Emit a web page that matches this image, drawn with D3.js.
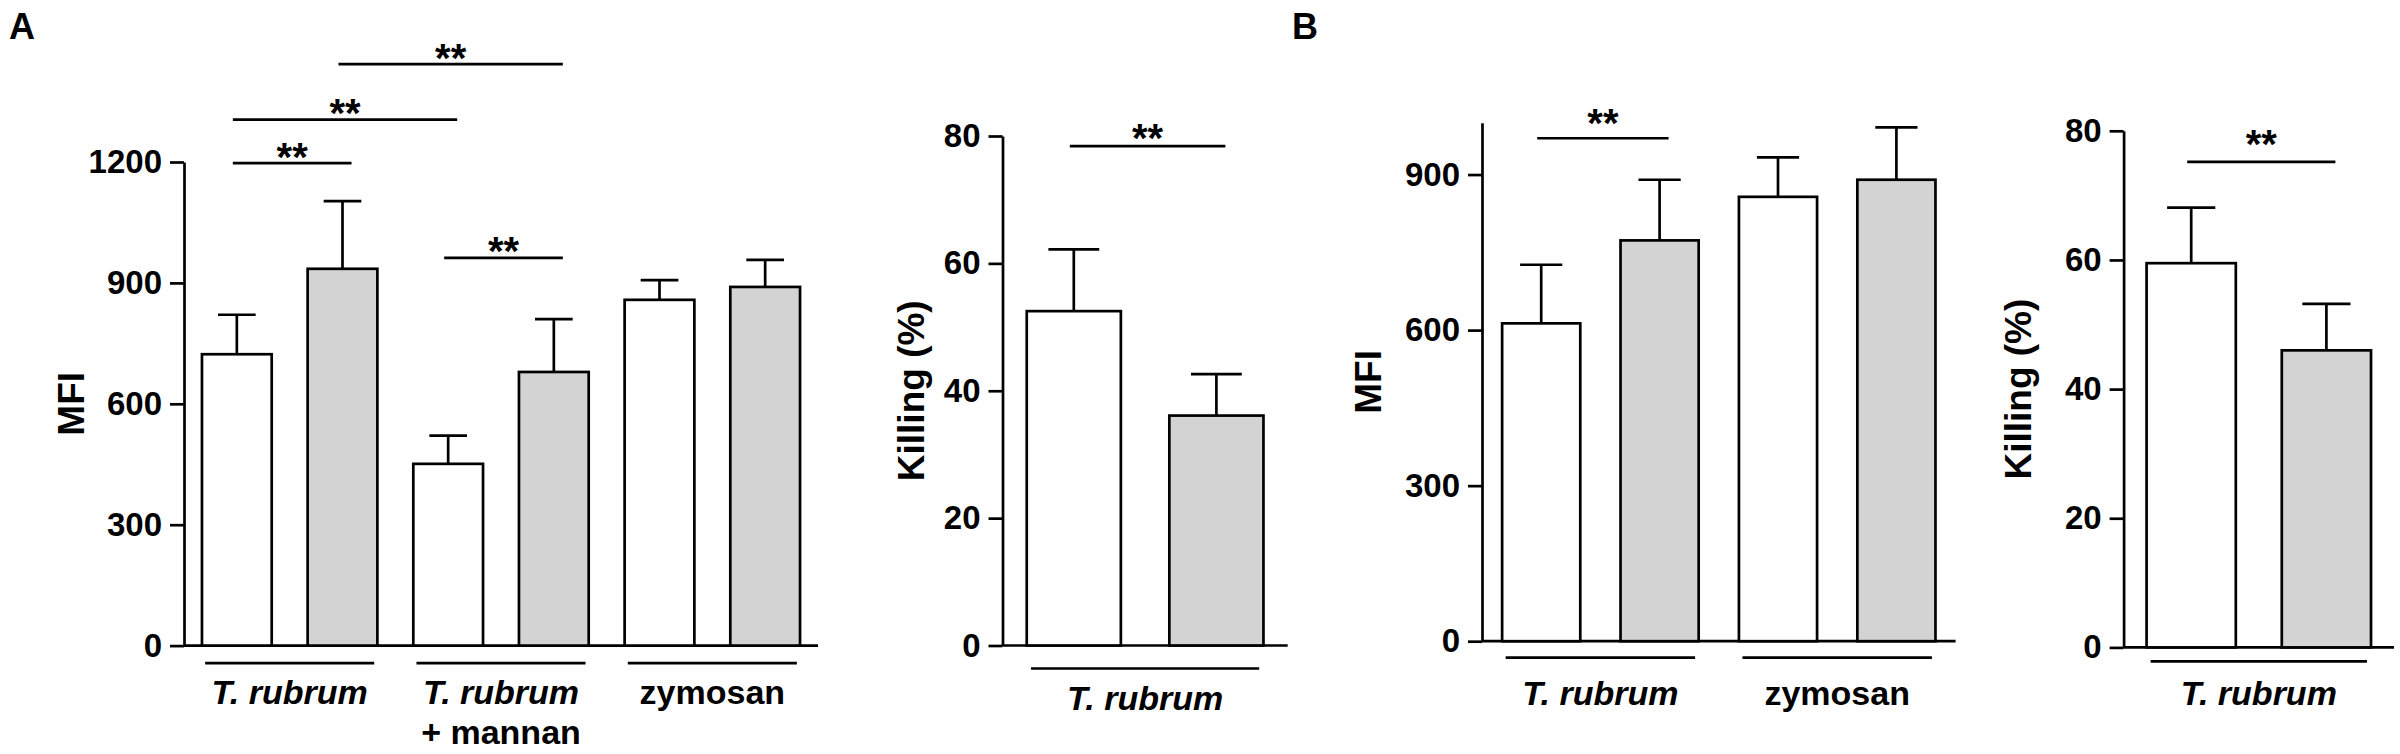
<!DOCTYPE html>
<html>
<head>
<meta charset="utf-8">
<script src="https://cdn.jsdelivr.net/npm/d3@7"></script>
<style>
  body { margin: 0; background: #fff; }
  svg { display: block; }
</style>
</head>
<body>
<div id="chart"></div>
<script>
// ---- data ----
// Panel A, MFI
const groupsA = [["T. rubrum"], ["T. rubrum", "+ mannan"], ["zymosan"]];
const mfiA_ctrl = [723, 451, 858];
const mfiA_ctrlErr = [98, 70, 49];
const mfiA_trt = [935, 679, 890];
const mfiA_trtErr = [168, 131, 67];
const mfiA_ticks = [0, 300, 600, 900, 1200];
// [bar i, bar j, level, label]
const mfiA_sig = [[0, 1, 1197, "**"], [0, 2, 1305, "**"], [1, 3, 1443, "**"], [2, 3, 962, "**"]];

// Panel A, killing
const groupsAK = [["T. rubrum"]];
const killA_ctrl = [52.5];
const killA_ctrlErr = [9.7];
const killA_trt = [36.1];
const killA_trtErr = [6.5];
const killTicks = [0, 20, 40, 60, 80];
const killA_sig = [[0, 1, 78.4, "**"]];

// Panel B, MFI
const groupsB = [["T. rubrum"], ["zymosan"]];
const mfiB_ctrl = [613, 857];
const mfiB_ctrlErr = [113, 76];
const mfiB_trt = [773, 890];
const mfiB_trtErr = [117, 101];
const mfiB_ticks = [0, 300, 600, 900];
const mfiB_sig = [[0, 1, 970, "**"]];

// Panel B, killing
const groupsBK = [["T. rubrum"]];
const killB_ctrl = [59.5];
const killB_ctrlErr = [8.6];
const killB_trt = [46.0];
const killB_trtErr = [7.2];
const killB_sig = [[0, 1, 75.2, "**"]];

const italicLabels = ["T. rubrum"];

// ---- drawing ----
const FONT = "'Liberation Sans', Arial, Helvetica, sans-serif";
const SW = 2.7;
const GRAY = "#d3d3d3";

const svg = d3.select("#chart").append("svg")
    .attr("width", 2400)
    .attr("height", 754)
    .style("font-family", FONT);

svg.append("rect").attr("width", 2400).attr("height", 754).attr("fill", "#fff");

function drawPanel(p) {
    const bars = p.groups.flatMap((g, i) => [
        {v: p.ctrl[i], e: p.ctrlErr[i], fill: "#fff"},
        {v: p.trt[i], e: p.trtErr[i], fill: GRAY}
    ]);

    const x = d3.scaleBand()
        .domain(d3.range(bars.length))
        .range([p.left, p.right])
        .paddingInner(0.34)
        .paddingOuter(0.17);
    const y = d3.scaleLinear()
        .domain([0, p.max])
        .range([p.bottom, p.top]);
    const bw = x.bandwidth();
    const cx = i => x(i) + bw / 2;

    const g = svg.append("g");

    // y axis
    const ax = g.append("g")
        .attr("transform", `translate(${p.left},0)`)
        .call(d3.axisLeft(y)
            .tickValues(p.ticks)
            .tickFormat(d3.format("d"))
            .tickSize(14)
            .tickPadding(8)
            .tickSizeOuter(0));
    ax.selectAll("path, line").attr("stroke", "#000").attr("stroke-width", SW);
    ax.selectAll("text")
        .attr("fill", "#000")
        .style("font-family", FONT)
        .style("font-size", "33px")
        .style("font-weight", "bold");

    // x axis line
    g.append("line")
        .attr("x1", p.left).attr("x2", p.right)
        .attr("y1", y(0)).attr("y2", y(0))
        .attr("stroke", "#000").attr("stroke-width", SW);

    // axis title
    g.append("text")
        .attr("transform", `translate(${p.titleX},${(p.top + p.bottom) / 2}) rotate(-90)`)
        .attr("text-anchor", "middle")
        .attr("dy", "0.35em")
        .style("font-size", "37px")
        .style("font-weight", "bold")
        .text(p.title);

    // bars
    g.selectAll(".bar")
        .data(bars)
        .enter()
        .append("rect")
        .attr("class", "bar")
        .attr("x", (d, i) => x(i))
        .attr("y", d => y(d.v))
        .attr("width", bw)
        .attr("height", d => y(0) - y(d.v))
        .attr("fill", d => d.fill)
        .attr("stroke", "#000")
        .attr("stroke-width", SW);

    // error bars (upper only)
    const eb = g.selectAll(".err")
        .data(bars)
        .enter()
        .append("g")
        .attr("class", "err");
    eb.append("line")
        .attr("x1", (d, i) => cx(i)).attr("x2", (d, i) => cx(i))
        .attr("y1", d => y(d.v)).attr("y2", d => y(d.v + d.e))
        .attr("stroke", "#000").attr("stroke-width", SW);
    eb.append("line")
        .attr("x1", (d, i) => cx(i) - bw * 0.27).attr("x2", (d, i) => cx(i) + bw * 0.27)
        .attr("y1", d => y(d.v + d.e)).attr("y2", d => y(d.v + d.e))
        .attr("stroke", "#000").attr("stroke-width", SW);

    // group underlines and labels
    const step = x.step();
    p.groups.forEach((lines, i) => {
        const c = (cx(2 * i) + cx(2 * i + 1)) / 2;
        g.append("line")
            .attr("x1", c - step * 0.8).attr("x2", c + step * 0.8)
            .attr("y1", y(0) + p.underlineGap).attr("y2", y(0) + p.underlineGap)
            .attr("stroke", "#000").attr("stroke-width", SW);
        lines.forEach((t, k) => {
            g.append("text")
                .attr("x", c)
                .attr("y", y(0) + p.labelGap + k * 40)
                .attr("text-anchor", "middle")
                .style("font-size", "34px")
                .style("font-weight", "bold")
                .style("font-style", italicLabels.includes(t) ? "italic" : "normal")
                .text(t);
        });
    });

    // significance bars
    p.sig.forEach(([a, b, lvl, lab]) => {
        const x1 = cx(a) - 4, x2 = cx(b) + 9, yy = y(lvl);
        g.append("line")
            .attr("x1", x1).attr("x2", x2)
            .attr("y1", yy).attr("y2", yy)
            .attr("stroke", "#000").attr("stroke-width", SW);
        g.append("text")
            .attr("x", (x1 + x2) / 2)
            .attr("y", yy - p.starGap + 16)
            .attr("text-anchor", "middle")
            .style("font-size", "40px")
            .style("font-weight", "bold")
            .text(lab);
    });
}

drawPanel({
    left: 184, right: 818, bottom: 645.6, top: 162, max: 1200, ticks: mfiA_ticks,
    title: "MFI", titleX: 71, underlineGap: 17.5, labelGap: 58.5, starGap: 8.5,
    groups: groupsA, ctrl: mfiA_ctrl, ctrlErr: mfiA_ctrlErr, trt: mfiA_trt, trtErr: mfiA_trtErr, sig: mfiA_sig
});
drawPanel({
    left: 1002.5, right: 1287.7, bottom: 645.5, top: 136, max: 80, ticks: killTicks,
    title: "Killing (%)", titleX: 911.5, underlineGap: 23, labelGap: 64, starGap: 10.5,
    groups: groupsAK, ctrl: killA_ctrl, ctrlErr: killA_ctrlErr, trt: killA_trt, trtErr: killA_trtErr, sig: killA_sig
});
drawPanel({
    left: 1482, right: 1955.6, bottom: 641.2, top: 122.7, max: 1000, ticks: mfiB_ticks,
    title: "MFI", titleX: 1368, underlineGap: 16.5, labelGap: 63.5, starGap: 17.5,
    groups: groupsB, ctrl: mfiB_ctrl, ctrlErr: mfiB_ctrlErr, trt: mfiB_trt, trtErr: mfiB_trtErr, sig: mfiB_sig
});
drawPanel({
    left: 2123.6, right: 2394, bottom: 647.4, top: 130.8, max: 80, ticks: killTicks,
    title: "Killing (%)", titleX: 2018.5, underlineGap: 14, labelGap: 57.5, starGap: 20,
    groups: groupsBK, ctrl: killB_ctrl, ctrlErr: killB_ctrlErr, trt: killB_trt, trtErr: killB_trtErr, sig: killB_sig
});

// panel letters
svg.append("text").attr("x", 9).attr("y", 38.5)
    .style("font-size", "36px").style("font-weight", "bold").text("A");
svg.append("text").attr("x", 1292).attr("y", 38.5)
    .style("font-size", "36px").style("font-weight", "bold").text("B");
</script>
</body>
</html>
